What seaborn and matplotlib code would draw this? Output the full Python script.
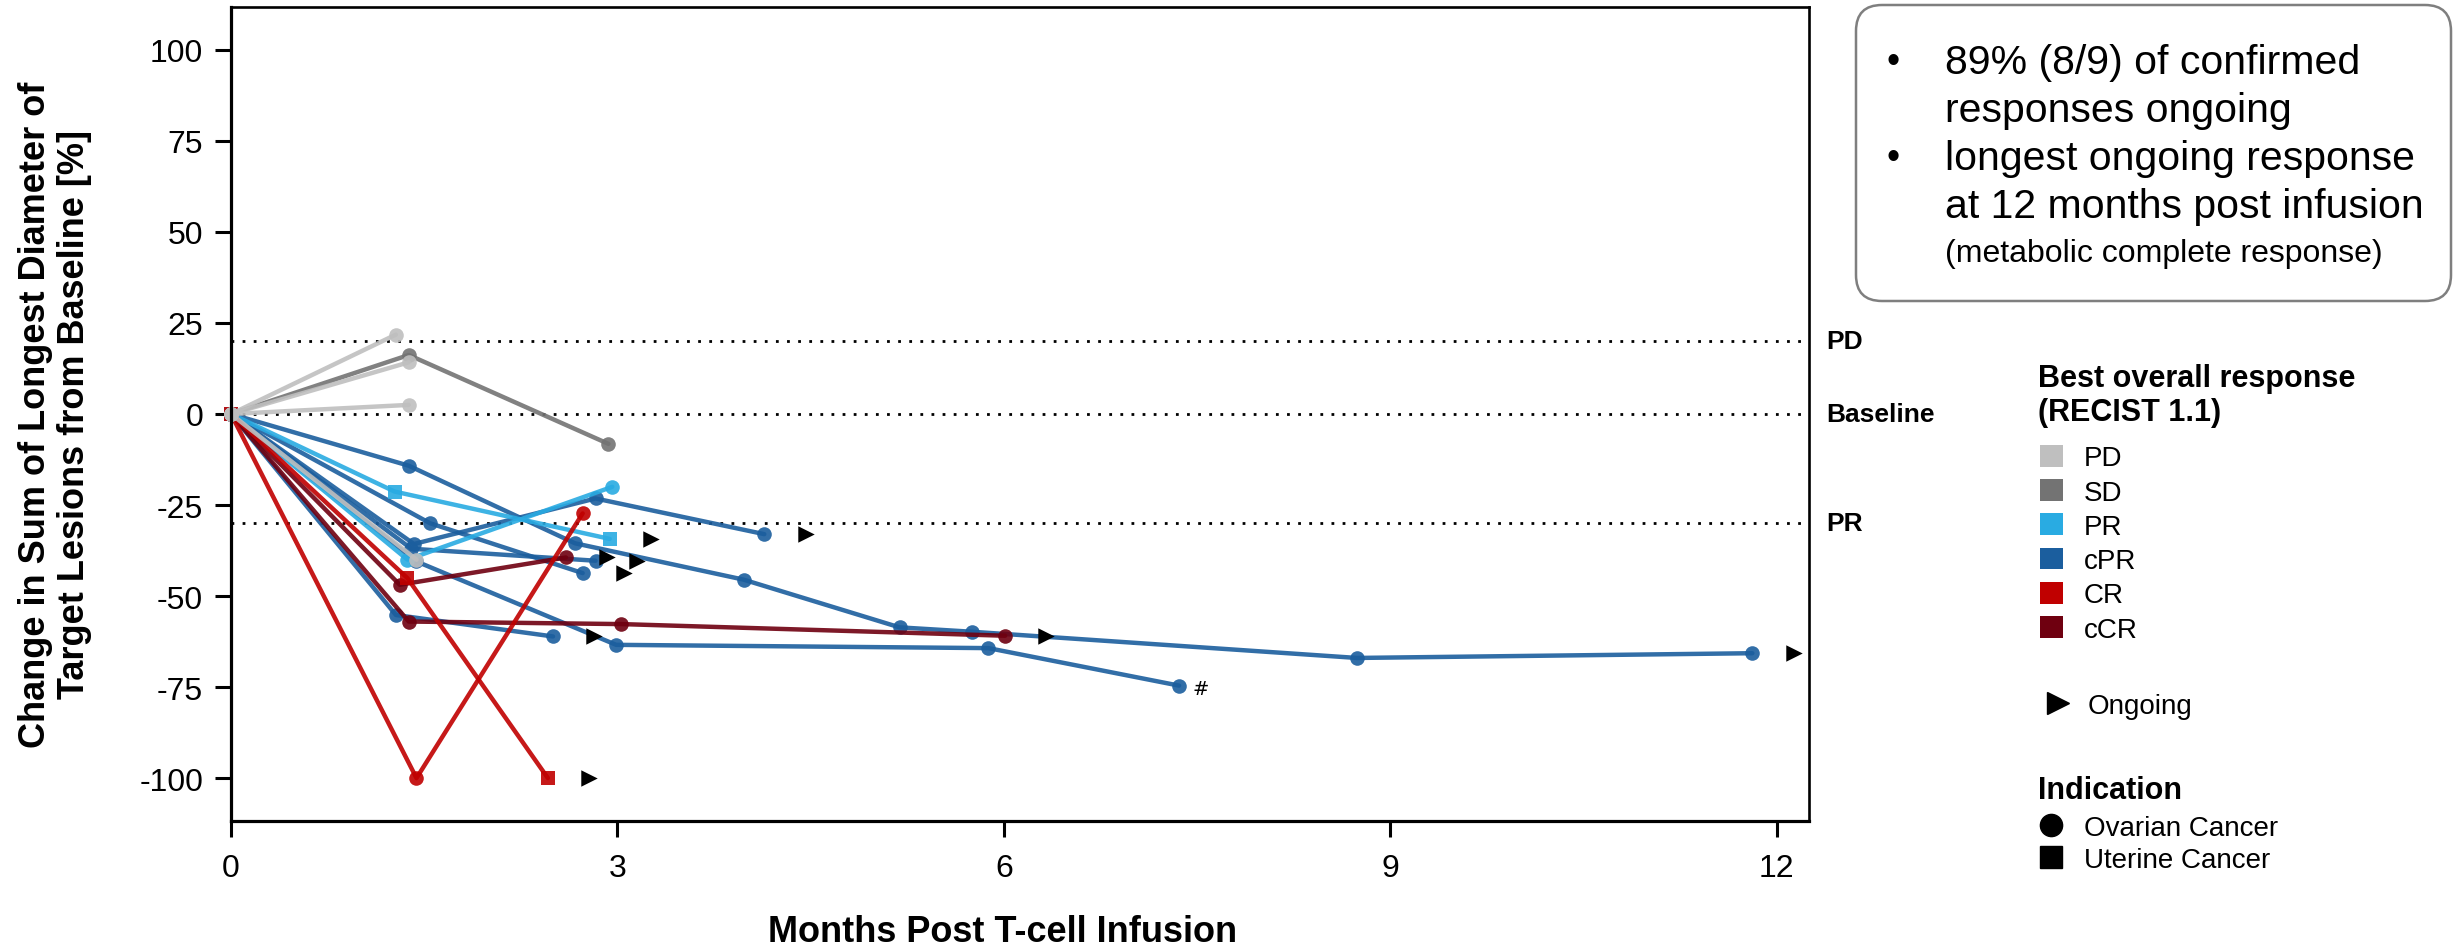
import numpy as np
import pandas as pd
import matplotlib
matplotlib.use("Agg")
import matplotlib.pyplot as plt
import matplotlib.transforms as mtransforms
import seaborn as sns
from matplotlib.patches import Patch, FancyBboxPatch
from matplotlib.lines import Line2D

# ---------- data ----------
patient_ids = ["P01", "P02", "P03", "P04", "P05", "P06", "P07", "P08", "P09",
               "P10", "P11", "P12", "P13", "P14", "P15", "P16", "P17"]
responses = ["PD", "PD", "PD", "PD", "SD", "PR", "PR", "cPR", "cPR",
             "cPR", "cPR", "cPR", "cPR", "CR", "CR", "cCR", "cCR"]
indications = ["Ovarian Cancer"] * 17
indications[5] = "Uterine Cancer"
indications[14] = "Uterine Cancer"

months = [
    [0, 1.28],
    [0, 1.38],
    [0, 1.38],
    [0, 1.44],
    [0, 1.38, 2.93],
    [0, 1.27, 2.94],
    [0, 1.37, 2.96],
    [0, 1.42, 2.83, 4.14],
    [0, 1.40, 2.83],
    [0, 1.545, 2.73],
    [0, 1.38, 2.67, 3.98, 5.19, 5.75, 8.74, 11.81],
    [0, 1.28, 2.50],
    [0, 1.44, 2.99, 5.88, 7.36],
    [0, 1.44, 2.73],
    [0, 1.37, 2.46],
    [0, 1.31, 2.60],
    [0, 1.38, 3.03, 6.01],
]
changes = [
    [0, 21.8],
    [0, 14.2],
    [0, 2.5],
    [0, -40.0],
    [0, 16.2, -8.2],
    [0, -21.3, -34.3],
    [0, -40.0, -20.0],
    [0, -35.7, -23.2, -33.0],
    [0, -37.0, -40.3],
    [0, -30.0, -43.7],
    [0, -14.2, -35.5, -45.5, -58.6, -59.8, -67.0, -65.7],
    [0, -55.2, -61.1],
    [0, -40.5, -63.4, -64.3, -74.6],
    [0, -100.0, -27.3],
    [0, -45.1, -100.0],
    [0, -46.9, -39.4],
    [0, -57.0, -57.7, -60.9],
]
ongoing = [False, False, False, False, False, True, False, True, True,
           True, True, True, False, False, True, True, True]
notes = [""] * 17
notes[12] = "#"

response_levels = ["PD", "SD", "PR", "cPR", "CR", "cCR"]
response_colors = ["#BFBFBF", "#737373", "#29ABE2", "#1B5E9E", "#C00000", "#6F0010"]
draw_order = ["cPR", "PR", "cCR", "CR", "SD", "PD"]

ref_values = [20, 0, -30]
ref_labels = ["PD", "Baseline", "PR"]

x_ticks = [0, 3, 6, 9, 12]
y_ticks = [-100, -75, -50, -25, 0, 25, 50, 75, 100]

box_lines = [("\u2022", "89% (8/9) of confirmed"),
             ("", "responses ongoing"),
             ("\u2022", "longest ongoing response"),
             ("", "at 12 months post infusion")]
box_note = "(metabolic complete response)"

ONGOING_GAP = 0.32  # months between last scan and the "ongoing" arrow

# ---------- tidy table ----------
rows = []
for pid, resp, ind, mo, ch in zip(patient_ids, responses, indications, months, changes):
    for m, c in zip(mo, ch):
        rows.append({"patient": pid, "response": resp, "indication": ind,
                     "month": m, "change": c})
df = pd.DataFrame(rows)

last = df.groupby("patient", sort=False).tail(1).reset_index(drop=True)
last["ongoing"] = ongoing
last["note"] = notes
ongoing_df = last[last["ongoing"]].copy()
ongoing_df["month"] = ongoing_df["month"] + ONGOING_GAP

# ---------- figure ----------
sns.set_style("ticks")
plt.rcParams["font.family"] = ["Liberation Sans", "DejaVu Sans"]
plt.rcParams["axes.unicode_minus"] = False
for key in ["text.color", "axes.labelcolor", "xtick.color", "ytick.color"]:
    plt.rcParams[key] = "black"

W, H = 2463, 953
fig = plt.figure(figsize=(W / 100, H / 100), dpi=100)
ax = fig.add_axes([231 / W, 1 - 821.7 / H, (1809 - 231) / W, (821.7 - 8.3) / H])

palette = dict(zip(response_levels, response_colors))

sns.lineplot(data=df, x="month", y="change", hue="response", hue_order=draw_order,
             palette=palette, style="indication",
             markers={"Ovarian Cancer": "o", "Uterine Cancer": "s"}, dashes=False,
             units="patient", estimator=None, sort=False, linewidth=3.2,
             markersize=10.5, markeredgewidth=0, alpha=0.9, clip_on=False,
             legend=False, ax=ax)

sns.scatterplot(data=ongoing_df, x="month", y="change", marker=">", color="black",
                s=140, linewidth=0, legend=False, zorder=5, clip_on=False, ax=ax)

for _, r in last[last["note"] != ""].iterrows():
    ax.annotate(r["note"], xy=(r["month"], r["change"]), xytext=(10, -2),
                textcoords="offset points", fontsize=14, ha="left", va="center",
                family="DejaVu Sans")

trans = mtransforms.blended_transform_factory(ax.transAxes, ax.transData)
for value, label in zip(ref_values, ref_labels):
    ax.axhline(value, color="black", lw=2, linestyle=(0, (1, 3)), zorder=0)
    ax.text(1.011, value, label, transform=trans, fontsize=19, fontweight="bold",
            ha="left", va="center")

ax.set_xlim(0, 12.25)
ax.set_ylim(-111.7, 111.7)
ax.set_xticks(x_ticks)
ax.set_yticks(y_ticks)
ax.tick_params(axis="both", length=11.5, width=2.2, labelsize=23, color="black")
ax.tick_params(axis="y", pad=8.6)
ax.tick_params(axis="x", pad=12)
for name, spine in ax.spines.items():
    spine.set_color("black")
    spine.set_linewidth(2.3 if name in ("left", "bottom") else 1.9)

ax.set_xlabel("Months Post T-cell Infusion", fontsize=26, fontweight="bold")
ax.set_ylabel("Change in Sum of Longest Diameter of\nTarget Lesions from Baseline [%]",
              fontsize=26, fontweight="bold", linespacing=1.15)
ax.xaxis.set_label_coords(0.489, -0.115)
ax.yaxis.set_label_coords(-0.088, 0.5)

# ---------- text box ----------
box = FancyBboxPatch((18.56, 6.51), 5.95, 2.96, boxstyle="round,pad=0,rounding_size=0.26",
                     transform=fig.dpi_scale_trans, facecolor="white",
                     edgecolor="#7F7F7F", linewidth=1.8)
fig.add_artist(box)
for i, (bullet, line) in enumerate(box_lines):
    yy = 1 - (63.3 + i * 47.8) / H
    if bullet:
        fig.text(1893 / W, yy, bullet, fontsize=27, ha="center", va="center")
    fig.text(1945 / W, yy, line, fontsize=29.5, ha="left", va="center")
fig.text(1945 / W, 1 - 254 / H, box_note, fontsize=23, ha="left", va="center")

# ---------- legends ----------
fig.text(2038 / W, 1 - 396 / H, "Best overall response\n(RECIST 1.1)", fontsize=22,
         fontweight="bold", ha="left", va="center", linespacing=1.15)
resp_handles = [Patch(facecolor=c, edgecolor="none") for c in response_colors]
leg1 = fig.legend(resp_handles, response_levels, loc="upper left",
                  bbox_to_anchor=(2040 / W, 1 - 446 / H), frameon=False, fontsize=20,
                  handlelength=0.82, handleheight=0.82, handletextpad=0.75,
                  labelspacing=0.28, borderpad=0, borderaxespad=0)

ongoing_handle = [Line2D([], [], marker=">", color="black", linestyle="none",
                         markersize=16)]
leg2 = fig.legend(ongoing_handle, ["Ongoing"], loc="upper left",
                  bbox_to_anchor=(2040 / W, 1 - 694 / H), frameon=False, fontsize=20,
                  handlelength=1.3, handletextpad=0.4, borderpad=0, borderaxespad=0)

fig.text(2038 / W, 1 - 791 / H, "Indication", fontsize=22, fontweight="bold",
         ha="left", va="center")
ind_handles = [Line2D([], [], marker=m, color="black", linestyle="none", markersize=16)
               for m in ["o", "s"]]
leg3 = fig.legend(ind_handles, ["Ovarian Cancer", "Uterine Cancer"], loc="upper left",
                  bbox_to_anchor=(2040 / W, 1 - 816 / H), frameon=False, fontsize=20,
                  handlelength=0.82, handletextpad=0.75, labelspacing=0.2,
                  borderpad=0, borderaxespad=0)

fig.savefig("out.png", dpi=100)
